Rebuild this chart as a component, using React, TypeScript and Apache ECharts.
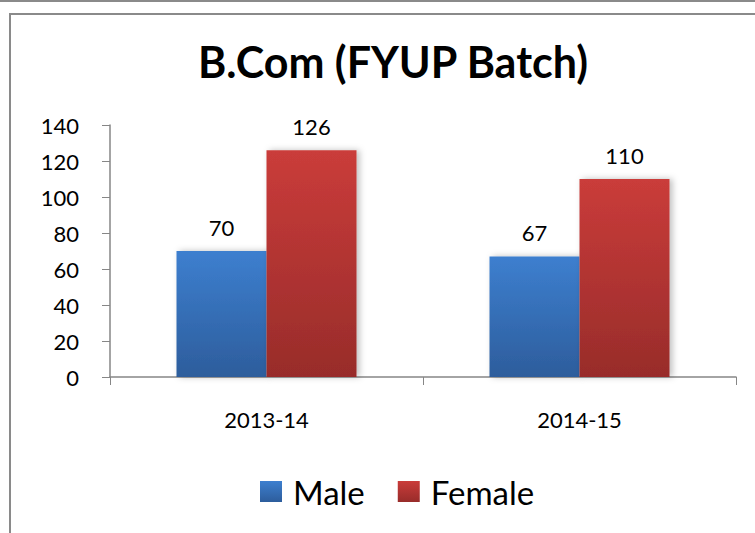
import React, { useEffect, useRef } from "react";
import * as echarts from "echarts";

const titleText = "B.Com (FYUP Batch)";
const categories = ["2013-14", "2014-15"];
const maleValues = [70, 67];
const femaleValues = [126, 110];
const yTicks = { min: 0, max: 140, interval: 20 };

const FONT = "Lato";

export default function App() {
  const ref = useRef<HTMLDivElement>(null);
  useEffect(() => {
    if (!ref.current) return;
    const chart = echarts.init(ref.current, null, { renderer: "svg" });
    const blue = new echarts.graphic.LinearGradient(0, 0, 0, 1, [
      { offset: 0, color: "#3D7FCF" },
      { offset: 1, color: "#2D5D9C" },
    ]);
    const red = new echarts.graphic.LinearGradient(0, 0, 0, 1, [
      { offset: 0, color: "#CA3C3A" },
      { offset: 1, color: "#982C2A" },
    ]);
    const label = {
      show: true,
      position: "top",
      distance: 13,
      color: "#000",
      fontFamily: FONT,
      fontSize: 22,
    };
    chart.setOption({
      animation: false,
      backgroundColor: "#fff",
      title: {
        text: titleText,
        left: 388,
        top: 35,
        textAlign: "center",
        textStyle: { fontFamily: FONT, fontSize: 43, fontWeight: "bold", color: "#000" },
      },
      graphic: [
        { type: "line", shape: { x1: 0, y1: 1, x2: 755, y2: 1 }, style: { stroke: "#8a8a8a", lineWidth: 2 } },
        { type: "rect", shape: { x: 10, y: 14, width: 800, height: 600 }, style: { fill: "none", stroke: "#8a8a8a", lineWidth: 2 } },
      ],
      legend: {
        bottom: 20,
        left: 255,
        itemWidth: 22,
        itemHeight: 21,
        itemGap: 33,
        icon: "rect",
        textStyle: { fontFamily: FONT, fontSize: 33, color: "#000", padding: [0, 0, 0, 6] },
        data: ["Male", "Female"],
      },
      grid: { left: 110, right: 19, top: 125, bottom: 156, containLabel: false },
      xAxis: {
        type: "category",
        data: categories,
        axisLine: { lineStyle: { color: "#868686", width: 1.5 } },
        axisTick: { show: true, length: 8, lineStyle: { color: "#868686" } },
        axisLabel: { margin: 31, color: "#000", fontFamily: FONT, fontSize: 22 },
      },
      yAxis: {
        type: "value",
        min: yTicks.min,
        max: yTicks.max,
        interval: yTicks.interval,
        axisLine: { show: true, lineStyle: { color: "#868686", width: 1.5 } },
        axisTick: { show: true, length: 8, lineStyle: { color: "#868686" } },
        splitLine: { show: false },
        axisLabel: { margin: 31, color: "#000", fontFamily: FONT, fontSize: 22 },
      },
      series: [
        {
          name: "Male",
          type: "bar",
          data: maleValues,
          barWidth: 90,
          barGap: "0%",
          itemStyle: { color: blue, shadowBlur: 6, shadowOffsetX: 3, shadowColor: "rgba(0,0,0,0.25)" },
          label,
        },
        {
          name: "Female",
          type: "bar",
          data: femaleValues,
          barWidth: 90,
          barGap: "0%",
          itemStyle: { color: red, shadowBlur: 6, shadowOffsetX: 3, shadowColor: "rgba(0,0,0,0.25)" },
          label,
        },
      ],
    });
    return () => chart.dispose();
  }, []);
  return (
    <div
      ref={ref}
      style={{ position: "absolute", left: 0, top: 0, width: 755, height: 533 }}
    />
  );
}
